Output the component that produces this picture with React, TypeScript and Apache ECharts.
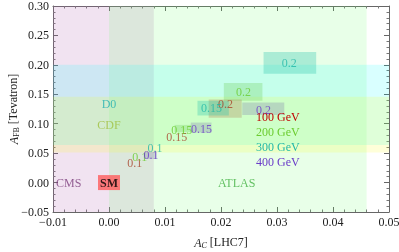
import React, { useEffect, useRef } from "react";
import * as echarts from "echarts";

// ---- data ----
const xMin = -0.01;
const xMax = 0.05;
const yMin = -0.05;
const yMax = 0.3;
const xStep = 0.01;
const yStep = 0.05;

const masses = ["100 GeV", "200 GeV", "300 GeV", "400 GeV"];
const couplings = ["0.1", "0.15", "0.2"];
// A_C [LHC7] for each mass, for couplings 0.1, 0.15, 0.2
const acValues = [
  [0.0046, 0.0121, 0.0208],
  [0.0055, 0.013, 0.024],
  [0.0082, 0.0183, 0.0322],
  [0.0075, 0.0165, 0.0276],
];
// A_FB [Tevatron]
const afbValues = [
  [0.034, 0.078, 0.134],
  [0.044, 0.09, 0.154],
  [0.058, 0.127, 0.203],
  [0.046, 0.0915, 0.124],
];

// uncertainty boxes: mass index, ac range, afb range
const boxMass = [2, 1, 0, 3, 2, 3, 1, 3];
const boxAc = [
  [0.0276, 0.037],
  [0.0205, 0.0274],
  [0.0178, 0.0237],
  [0.0238, 0.0313],
  [0.0158, 0.0214],
  [0.0146, 0.0183],
  [0.0117, 0.0147],
  [0.0063, 0.0085],
];
const boxAfb = [
  [0.185, 0.222],
  [0.139, 0.169],
  [0.11, 0.141],
  [0.115, 0.136],
  [0.114, 0.139],
  [0.085, 0.102],
  [0.086, 0.098],
  [0.04, 0.052],
];

// experimental bands
const cmsAc = [-0.01, 0.008];
const atlasAc = [0.0, 0.046];
const d0Afb = [0.064, 0.2];
const cdfAfb = [0.051, 0.146];

const regionNames = ["CMS", "ATLAS", "D0", "CDF"];
const regionAc = [-0.0072, 0.0228, 0.0, 0.0];
const regionAfb = [0.0, 0.0, 0.133, 0.098];

const smPoint = [0, 0];

// ---- styles ----
const FONT = "Liberation Serif";
const labelColors = ["#a8452c", "#6ccc30", "#22b8a8", "#6a3cc8"];
const legendColors = ["#c00000", "#6ccc30", "#22b8a8", "#6a3cc8"];
const boxColors = [
  "rgba(170,110,70,0.28)",
  "rgba(110,205,90,0.30)",
  "rgba(40,195,170,0.32)",
  "rgba(125,125,170,0.30)",
];
const regionColors = ["#7a3c7a", "#40b040", "#20b0b0", "#a0c040"];

const fmt = (v: number) => {
  const s = Math.abs(v).toFixed(2);
  return v < -1e-9 ? "\u2212" + s : s;
};

export default function App() {
  const ref = useRef<HTMLDivElement>(null);
  useEffect(() => {
    if (!ref.current) return;
    const chart = echarts.init(ref.current, undefined, { renderer: "svg" });

    const axisCommon = {
      axisLine: { show: true, onZero: false, lineStyle: { color: "#666", width: 1 } },
      axisTick: { show: true, inside: true, length: 5, lineStyle: { color: "#666" } },
      minorTick: { show: true, splitNumber: 5, length: 2.5, lineStyle: { color: "#777" } },
      splitLine: { show: false },
    };

    const xAxisBase = {
      ...axisCommon,
      type: "value" as const,
      min: xMin,
      max: xMax,
      interval: xStep,
    };
    const yAxisBase = {
      ...axisCommon,
      type: "value" as const,
      min: yMin,
      max: yMax,
      interval: yStep,
    };

    const hidden = { color: "transparent", borderWidth: 0 };

    const pointSeries = masses.map((m, mi) => ({
      type: "scatter",
      name: m,
      z: 3,
      symbolSize: 1,
      itemStyle: hidden,
      label: {
        show: true,
        position: "inside",
        formatter: (p: any) => p.data.name,
        color: labelColors[mi],
        fontFamily: FONT,
        fontSize: 12,
      },
      labelLayout: { hideOverlap: false },
      data: couplings.map((c, ci) => ({
        name: c,
        value: [acValues[mi][ci], afbValues[mi][ci]],
      })),
    }));

    const option: any = {
      animation: false,
      grid: {
        left: 53,
        right: 10,
        top: 6,
        bottom: 40,
        containLabel: false,
        outerBoundsMode: "none",
      },
      xAxis: [
        {
          ...xAxisBase,
          position: "bottom",
          axisLabel: {
            formatter: fmt,
            color: "#222",
            fontFamily: FONT,
            fontSize: 12,
            margin: 4,
          },
          name: "{i|A}{s|C} [LHC7]",
          nameLocation: "middle",
          nameGap: 22,
          nameTextStyle: {
            color: "#222",
            fontFamily: FONT,
            fontSize: 12,
            rich: {
              i: { fontFamily: FONT, fontSize: 12, fontStyle: "italic", color: "#222", verticalAlign: "bottom", lineHeight: 15 },
              s: { fontFamily: FONT, fontSize: 8, fontStyle: "italic", color: "#222", verticalAlign: "bottom", lineHeight: 12 },
            },
          },
        },
        { ...xAxisBase, position: "top", axisLabel: { show: false } },
      ],
      yAxis: [
        {
          ...yAxisBase,
          position: "left",
          axisLabel: {
            formatter: fmt,
            color: "#222",
            fontFamily: FONT,
            fontSize: 12,
            margin: 4,
          },
          name: "{i|A}{s|FB} [Tevatron]",
          nameLocation: "middle",
          nameGap: 33,
          nameMoveOverlap: false,
          nameRotate: 90,
          nameTextStyle: {
            color: "#222",
            fontFamily: FONT,
            fontSize: 12,
            rich: {
              i: { fontFamily: FONT, fontSize: 12, fontStyle: "italic", color: "#222", verticalAlign: "bottom", lineHeight: 15 },
              s: { fontFamily: FONT, fontSize: 8, color: "#222", verticalAlign: "bottom", lineHeight: 12 },
            },
          },
        },
        { ...yAxisBase, position: "right", axisLabel: { show: false } },
      ],
      series: [
        {
          type: "scatter",
          z: 1,
          data: [],
          markArea: {
            silent: true,
            label: { show: false },
            data: [
              [
                { xAxis: cmsAc[0], yAxis: yMin, itemStyle: { color: "rgba(180,100,180,0.18)" } },
                { xAxis: cmsAc[1], yAxis: yMax },
              ],
              [
                { xAxis: atlasAc[0], yAxis: yMin, itemStyle: { color: "rgba(100,255,100,0.15)" } },
                { xAxis: atlasAc[1], yAxis: yMax },
              ],
              [
                { xAxis: xMin, yAxis: d0Afb[0], itemStyle: { color: "rgba(0,255,255,0.15)" } },
                { xAxis: xMax, yAxis: d0Afb[1] },
              ],
              [
                { xAxis: xMin, yAxis: cdfAfb[0], itemStyle: { color: "rgba(255,255,0,0.15)" } },
                { xAxis: xMax, yAxis: cdfAfb[1] },
              ],
            ],
          },
        },
        {
          type: "scatter",
          z: 2,
          symbolSize: 1,
          itemStyle: hidden,
          labelLayout: { hideOverlap: false },
          data: regionNames.map((n, i) => ({
            name: n,
            value: [regionAc[i], regionAfb[i]],
            label: { color: regionColors[i] },
          })),
          label: {
            show: true,
            position: "inside",
            formatter: (p: any) => p.data.name,
            fontFamily: FONT,
            fontSize: 12,
          },
        },
        ...pointSeries,
        {
          type: "scatter",
          z: 4,
          data: [],
          markArea: {
            silent: true,
            label: { show: false },
            data: boxMass.map((m, i) => [
              { xAxis: boxAc[i][0], yAxis: boxAfb[i][0], itemStyle: { color: boxColors[m] } },
              { xAxis: boxAc[i][1], yAxis: boxAfb[i][1] },
            ]),
          },
        },
        {
          type: "scatter",
          z: 5,
          symbolSize: 1,
          itemStyle: hidden,
          data: [{ name: "SM", value: smPoint }],
          label: {
            show: true,
            position: "inside",
            formatter: "SM",
            fontFamily: FONT,
            fontSize: 12,
            fontWeight: "bold",
            color: "#000",
            backgroundColor: "#ff5c5c",
            padding: [2, 2, 1, 2],
          },
        },
      ],
      graphic: masses.map((m, i) => ({
        type: "text",
        left: 256,
        top: 111 + i * 15,
        style: {
          text: m,
          fill: legendColors[i],
          fontFamily: FONT,
          fontSize: 12,
        },
        z: 10,
      })),
    };

    chart.setOption(option);
    return () => chart.dispose();
  }, []);

  return (
    <div
      ref={ref}
      style={{ position: "fixed", left: 0, top: 0, width: 399, height: 252 }}
    />
  );
}
